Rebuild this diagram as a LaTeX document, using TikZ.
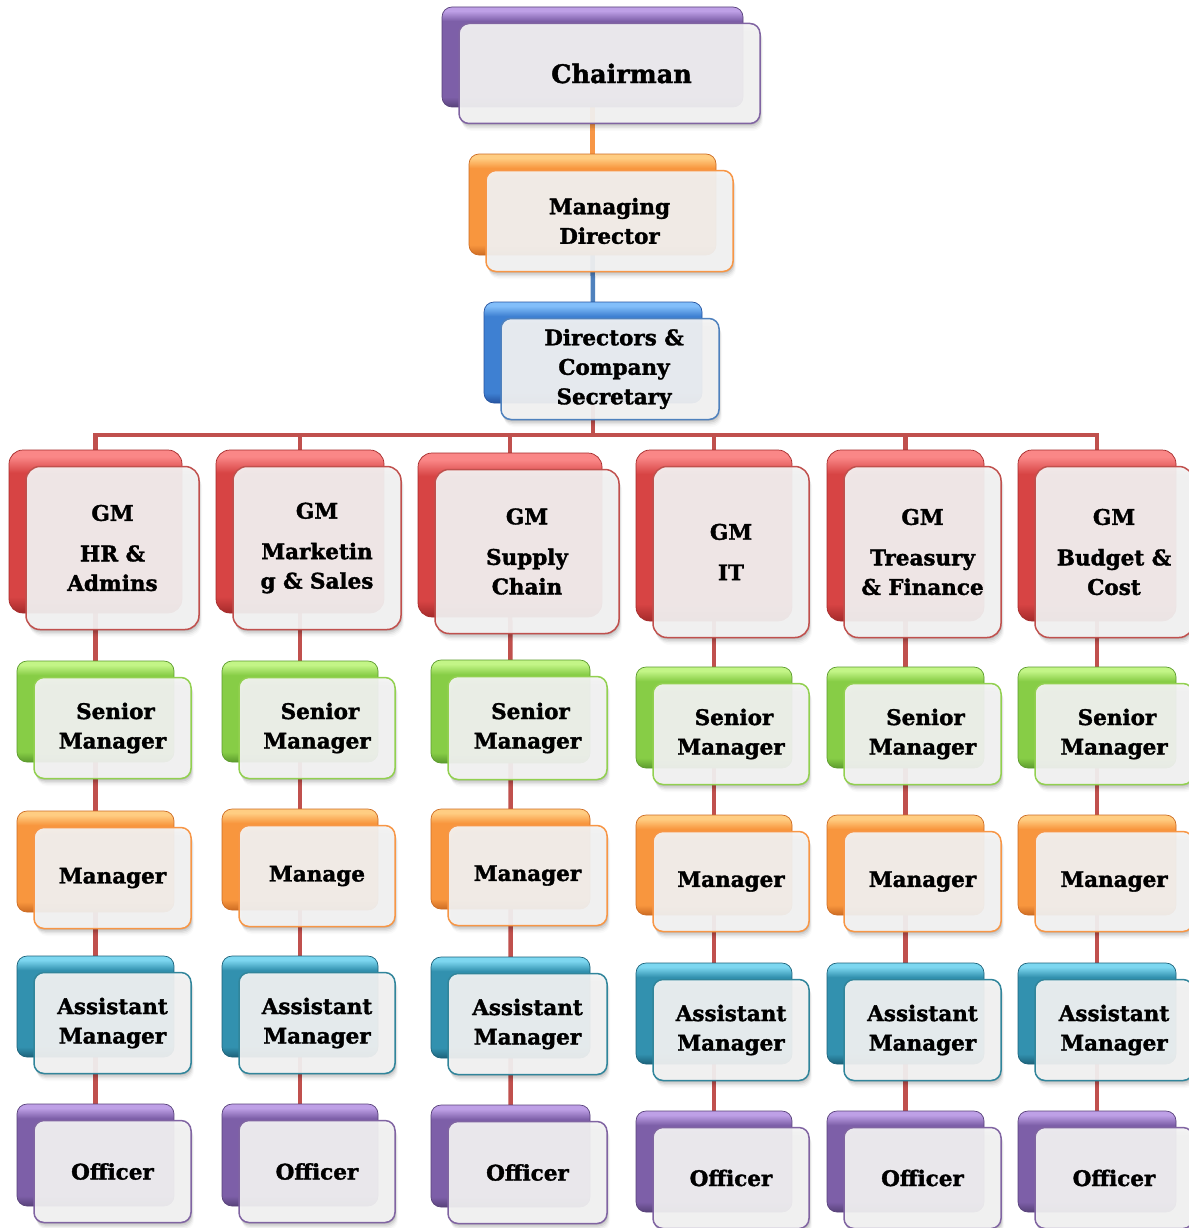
\documentclass[tikz,border=0pt]{standalone}
\usepackage{fontspec}
\setmainfont{DejaVu Serif}[BoldFeatures={FakeBold=1.6}]
\usetikzlibrary{fit}
\pgfdeclarelayer{bg}
\pgfsetlayers{bg,main}
\definecolor{purB}{RGB}{128,100,162}
\definecolor{purT}{RGB}{190,160,230}
\definecolor{purM}{RGB}{125,95,168}
\definecolor{purD}{RGB}{88,66,122}
\definecolor{oraB}{RGB}{247,150,70}
\definecolor{oraT}{RGB}{255,205,130}
\definecolor{oraM}{RGB}{248,150,62}
\definecolor{oraD}{RGB}{205,108,35}
\definecolor{bluB}{RGB}{79,129,189}
\definecolor{bluT}{RGB}{130,190,250}
\definecolor{bluM}{RGB}{62,128,210}
\definecolor{bluD}{RGB}{38,84,160}
\definecolor{redB}{RGB}{192,80,77}
\definecolor{redT}{RGB}{250,135,135}
\definecolor{redM}{RGB}{215,68,68}
\definecolor{redD}{RGB}{165,42,42}
\definecolor{grnB}{RGB}{146,208,80}
\definecolor{grnT}{RGB}{195,245,135}
\definecolor{grnM}{RGB}{135,205,70}
\definecolor{grnD}{RGB}{92,155,45}
\definecolor{tealB}{RGB}{49,133,155}
\definecolor{tealT}{RGB}{125,215,240}
\definecolor{tealM}{RGB}{50,145,175}
\definecolor{tealD}{RGB}{28,98,122}
\pgfdeclareverticalshading{pursh}{100bp}{color(0bp)=(purD); color(25bp)=(purD); color(30bp)=(purM); color(68bp)=(purM); color(73bp)=(purT); color(100bp)=(purT)}
\pgfdeclareverticalshading{orash}{100bp}{color(0bp)=(oraD); color(25bp)=(oraD); color(30bp)=(oraM); color(68bp)=(oraM); color(73bp)=(oraT); color(100bp)=(oraT)}
\pgfdeclareverticalshading{blush}{100bp}{color(0bp)=(bluD); color(25bp)=(bluD); color(30bp)=(bluM); color(68bp)=(bluM); color(73bp)=(bluT); color(100bp)=(bluT)}
\pgfdeclareverticalshading{redsh}{100bp}{color(0bp)=(redD); color(25bp)=(redD); color(30bp)=(redM); color(68bp)=(redM); color(73bp)=(redT); color(100bp)=(redT)}
\pgfdeclareverticalshading{grnsh}{100bp}{color(0bp)=(grnD); color(25bp)=(grnD); color(30bp)=(grnM); color(68bp)=(grnM); color(73bp)=(grnT); color(100bp)=(grnT)}
\pgfdeclareverticalshading{tealsh}{100bp}{color(0bp)=(tealD); color(25bp)=(tealD); color(30bp)=(tealM); color(68bp)=(tealM); color(73bp)=(tealT); color(100bp)=(tealT)}
\tikzset{
  back/.style={draw=#1D, line width=0.7pt, shading=#1sh},
  front/.style={draw=#1B, line width=1.5pt, fill=white!96!black, fill opacity=0.92},
  txt/.style={font=\bfseries\fontsize{21.5}{29.5}\selectfont, align=center, inner sep=0pt, text=black},
  conn/.style={line width=4.5pt},
}
\newcommand{\orgbox}[9]{%
  \node[fit={(#3,#4) (#5,#6)}, inner sep=0pt, rounded corners=#7pt, back=#2] (#1b) {};
  \begin{scope}
    \clip[rounded corners=#7pt] (-20,-20) rectangle (1210,1250) ({#5+17},{#6+16.5}) rectangle ({#3+17},{#4+16.5});
    \foreach \sh/\op in {1.5/0.09,3/0.07,4.5/0.05,6/0.035,7.5/0.02}
      \fill[black, opacity=\op, rounded corners=#7pt] ({#3+17+0.4*\sh},{#4+16.5+\sh}) rectangle ({#5+17+0.4*\sh},{#6+16.5+\sh});
  \end{scope}
  \node[fit={({#3+17},{#4+16.5}) ({#5+17},{#6+16.5})}, inner sep=0pt, rounded corners=#7pt, front=#2] (#1) {};
  \node[txt, #8] (#1t) at (#1.center) {#9};
}
\begin{document}
\begin{tikzpicture}[x=1pt, y=-1pt]
\useasboundingbox (0,0) rectangle (1188,1228);
\coordinate (bus) at (0,435);
% top chain
\orgbox{chair}{pur}{442}{7}{743}{107}{10}{font=\bfseries\fontsize{25.5}{30}\selectfont, xshift=12pt}{Chairman}
\orgbox{md}{ora}{469}{154}{716}{255}{10}{}{Managing\\Director}
\orgbox{dir}{blu}{484}{302}{702}{403}{10}{xshift=4pt}{Directors \&\\Company\\Secretary}
% GM row
\orgbox{gm1}{red}{9}{450}{182}{613}{14}{}{GM\\[11pt]HR \&\\Admins}
\orgbox{gm2}{red}{216}{450}{384}{613}{14}{}{GM\\[11pt]Marketin\\g \& Sales}
\orgbox{gm3}{red}{418}{453}{602}{617}{14}{}{GM\\[11pt]Supply\\Chain}
\orgbox{gm4}{red}{636}{450}{792}{621}{14}{}{GM\\[11pt]IT}
\orgbox{gm5}{red}{827}{450}{984}{621}{14}{}{GM\\[11pt]Treasury\\\& Finance}
\orgbox{gm6}{red}{1018}{450}{1176}{621}{14}{}{GM\\[11pt]Budget \&\\Cost}
% Senior managers
\orgbox{sm1}{grn}{17}{661}{174}{762}{10}{}{\hspace*{6pt}Senior\\Manager}
\orgbox{sm2}{grn}{222}{661}{378}{762}{10}{}{\hspace*{6pt}Senior\\Manager}
\orgbox{sm3}{grn}{431}{660}{590}{763}{10}{}{\hspace*{6pt}Senior\\Manager}
\orgbox{sm4}{grn}{636}{667}{792}{768}{10}{}{\hspace*{6pt}Senior\\Manager}
\orgbox{sm5}{grn}{827}{667}{984}{768}{10}{}{\hspace*{6pt}Senior\\Manager}
\orgbox{sm6}{grn}{1018}{667}{1176}{768}{10}{}{\hspace*{6pt}Senior\\Manager}
% Managers
\orgbox{mg1}{ora}{17}{811}{174}{912}{10}{}{Manager}
\orgbox{mg2}{ora}{222}{809}{378}{910}{10}{}{Manage}
\orgbox{mg3}{ora}{431}{809}{590}{909}{10}{}{Manager}
\orgbox{mg4}{ora}{636}{815}{792}{915}{10}{}{Manager}
\orgbox{mg5}{ora}{827}{815}{984}{915}{10}{}{Manager}
\orgbox{mg6}{ora}{1018}{815}{1176}{915}{10}{}{Manager}
% Assistant managers
\orgbox{am1}{teal}{17}{956}{174}{1057}{10}{}{Assistant\\Manager}
\orgbox{am2}{teal}{222}{956}{378}{1057}{10}{}{Assistant\\Manager}
\orgbox{am3}{teal}{431}{957}{590}{1058}{10}{}{Assistant\\Manager}
\orgbox{am4}{teal}{636}{963}{792}{1064}{10}{}{Assistant\\Manager}
\orgbox{am5}{teal}{827}{963}{984}{1064}{10}{}{Assistant\\Manager}
\orgbox{am6}{teal}{1018}{963}{1176}{1064}{10}{}{Assistant\\Manager}
% Officers
\orgbox{of1}{pur}{17}{1104}{174}{1206}{10}{}{Officer}
\orgbox{of2}{pur}{222}{1104}{378}{1206}{10}{}{Officer}
\orgbox{of3}{pur}{431}{1105}{590}{1207}{10}{}{Officer}
\orgbox{of4}{pur}{636}{1111}{792}{1212}{10}{}{Officer}
\orgbox{of5}{pur}{827}{1111}{984}{1212}{10}{}{Officer}
\orgbox{of6}{pur}{1018}{1111}{1176}{1212}{10}{}{Officer}
% connectors
\begin{pgfonlayer}{bg}
\fill[white] (0,0) rectangle (1188,1228);
\draw[conn, draw=oraB] (chairb.center) -- (mdb.center);
\draw[conn, draw=bluB] (mdb.center) -- (dirb.center);
\draw[conn, draw=redB] (dirb.center) -- (dirb.center |- bus) -| (gm1b.center);
\draw[conn, draw=redB] (dirb.center |- bus) -| (gm2b.center);
\draw[conn, draw=redB] (dirb.center |- bus) -| (gm3b.center);
\draw[conn, draw=redB] (dirb.center |- bus) -| (gm4b.center);
\draw[conn, draw=redB] (dirb.center |- bus) -| (gm5b.center);
\draw[conn, draw=redB] (dirb.center |- bus) -| (gm6b.center);
\draw[conn, draw=redB] (gm1b.center) -- (sm1b.center) -- (mg1b.center) -- (am1b.center) -- (of1b.center);
\draw[conn, draw=redB] (gm2b.center) -- (sm2b.center) -- (mg2b.center) -- (am2b.center) -- (of2b.center);
\draw[conn, draw=redB] (gm3b.center) -- (sm3b.center) -- (mg3b.center) -- (am3b.center) -- (of3b.center);
\draw[conn, draw=redB] (gm4b.center) -- (sm4b.center) -- (mg4b.center) -- (am4b.center) -- (of4b.center);
\draw[conn, draw=redB] (gm5b.center) -- (sm5b.center) -- (mg5b.center) -- (am5b.center) -- (of5b.center);
\draw[conn, draw=redB] (gm6b.center) -- (sm6b.center) -- (mg6b.center) -- (am6b.center) -- (of6b.center);
\end{pgfonlayer}
\end{tikzpicture}
\end{document}
